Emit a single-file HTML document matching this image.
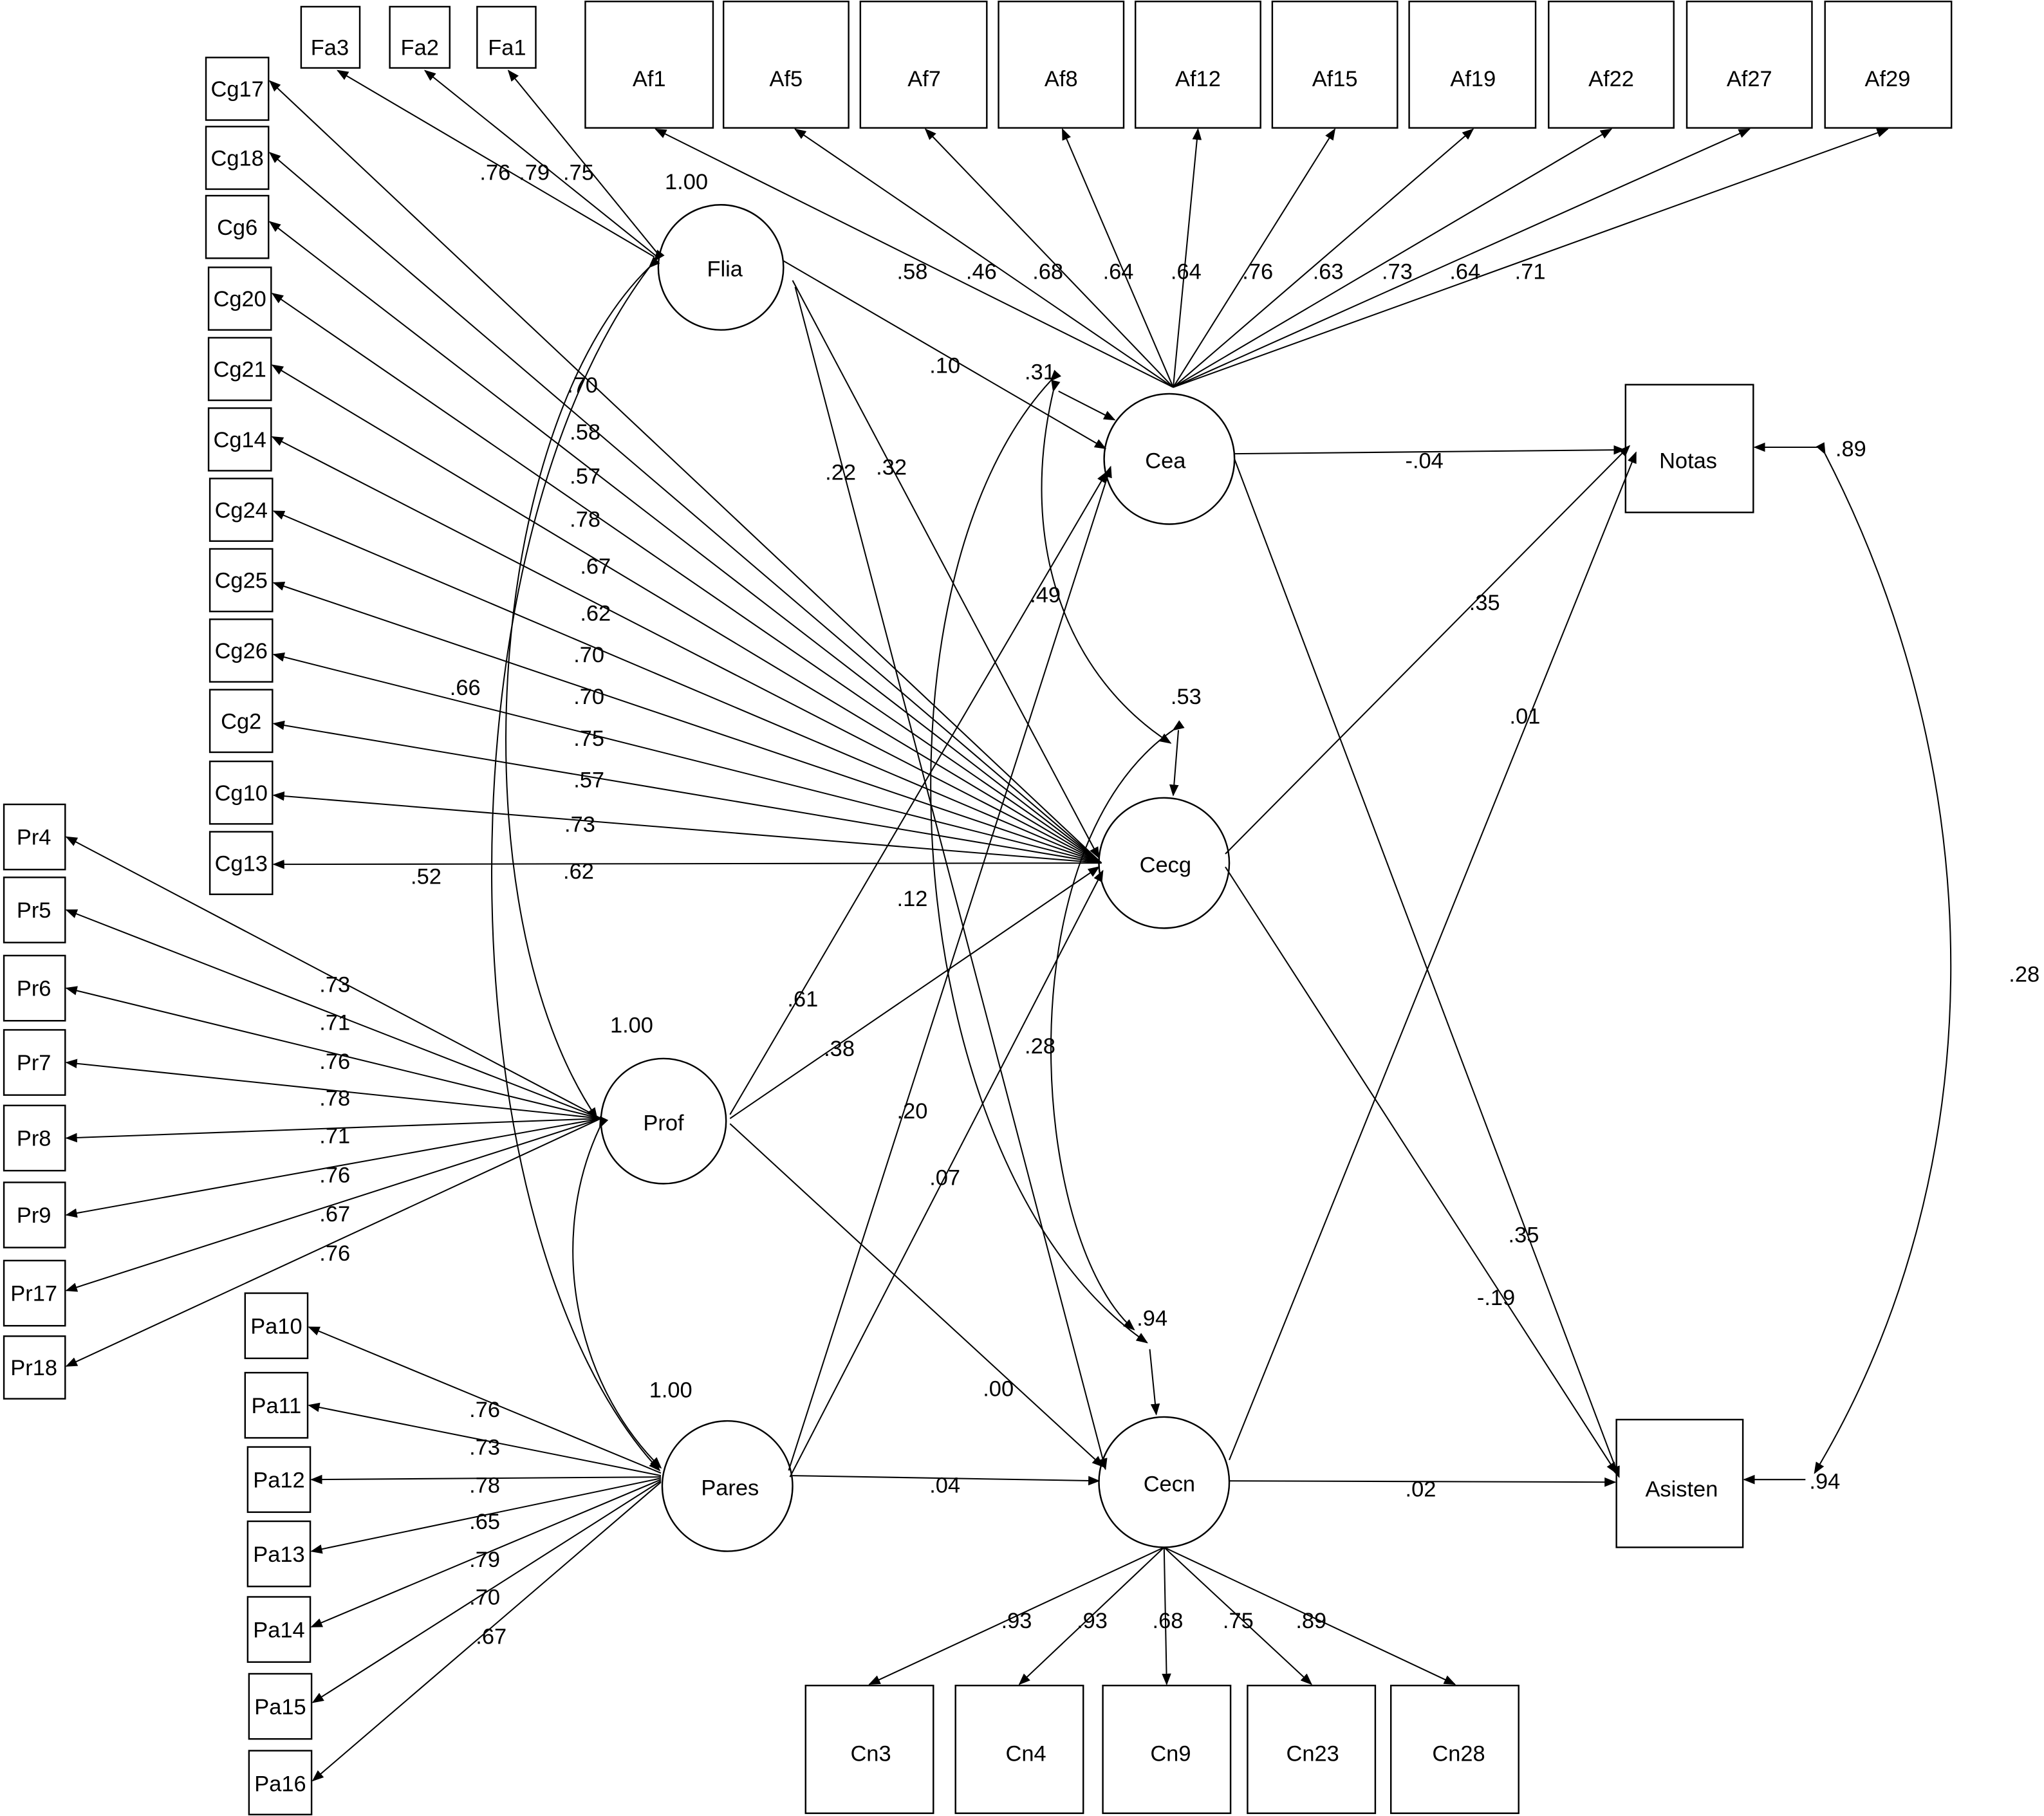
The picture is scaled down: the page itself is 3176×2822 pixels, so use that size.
<!DOCTYPE html>
<html><head><meta charset="utf-8"><style>
html,body{margin:0;padding:0;background:#fff;}
svg{display:block;}
text{font-family:"Liberation Sans",Arial,sans-serif;font-size:17px;fill:#000;}
</style></head><body>
<svg width="3176" height="2822" viewBox="0 0 1568 1393" xmlns="http://www.w3.org/2000/svg">
<defs><marker id="a" viewBox="0 0 10 10" refX="9" refY="5" markerWidth="9" markerHeight="9" markerUnits="userSpaceOnUse" orient="auto"><path d="M0,1 L10,5 L0,9 z" fill="#000"/></marker></defs>
<rect width="1568" height="1393" fill="#fff"/>
<g fill="#fff" stroke="#000" stroke-width="1.2">
<rect x="231" y="5" width="45" height="47"/><rect x="299" y="5" width="46" height="47"/><rect x="366" y="5" width="45" height="47"/>
<rect x="449" y="1" width="98" height="97"/><rect x="555" y="1" width="96" height="97"/><rect x="660" y="1" width="97" height="97"/><rect x="766" y="1" width="96" height="97"/><rect x="871" y="1" width="96" height="97"/><rect x="976" y="1" width="96" height="97"/><rect x="1081" y="1" width="97" height="97"/><rect x="1188" y="1" width="96" height="97"/><rect x="1294" y="1" width="96" height="97"/><rect x="1400" y="1" width="97" height="97"/>
<rect x="158" y="44" width="48" height="48"/><rect x="158" y="97" width="48" height="48"/><rect x="158" y="150" width="48" height="48"/><rect x="160" y="205" width="48" height="48"/><rect x="160" y="259" width="48" height="48"/><rect x="160" y="313" width="48" height="48"/><rect x="161" y="367" width="48" height="48"/><rect x="161" y="421" width="48" height="48"/><rect x="161" y="475" width="48" height="48"/><rect x="161" y="529" width="48" height="48"/><rect x="161" y="584" width="48" height="48"/><rect x="161" y="638" width="48" height="48"/>
<rect x="3" y="617" width="47" height="50"/><rect x="3" y="673" width="47" height="50"/><rect x="3" y="733" width="47" height="50"/><rect x="3" y="790" width="47" height="50"/><rect x="3" y="848" width="47" height="50"/><rect x="3" y="907" width="47" height="50"/><rect x="3" y="967" width="47" height="50"/><rect x="3" y="1025" width="47" height="48"/>
<rect x="188" y="992" width="48" height="50"/><rect x="188" y="1053" width="48" height="50"/><rect x="190" y="1110" width="48" height="50"/><rect x="190" y="1167" width="48" height="50"/><rect x="190" y="1225" width="48" height="50"/><rect x="191" y="1284" width="48" height="50"/><rect x="191" y="1343" width="48" height="49"/>
<circle cx="553" cy="205" r="48"/><circle cx="509" cy="860" r="48"/><circle cx="558" cy="1140" r="50"/><circle cx="897" cy="352" r="50"/><circle cx="893" cy="662" r="50"/><circle cx="893" cy="1137" r="50"/>
<rect x="1247" y="295" width="98" height="98"/><rect x="1240" y="1089" width="97" height="98"/>
<rect x="618" y="1293" width="98" height="98"/><rect x="733" y="1293" width="98" height="98"/><rect x="846" y="1293" width="98" height="98"/><rect x="957" y="1293" width="98" height="98"/><rect x="1067" y="1293" width="98" height="98"/>
</g>
<g stroke="#000" stroke-width="1" fill="none" marker-end="url(#a)">
<!-- Flia indicators -->
<line x1="502" y1="197" x2="259" y2="54"/><line x1="503" y1="196" x2="326" y2="54"/><line x1="505" y1="195" x2="390" y2="54"/>
<!-- Cea indicators -->
<line x1="900" y1="297" x2="503" y2="99"/><line x1="900" y1="297" x2="610" y2="99"/><line x1="900" y1="297" x2="710" y2="99"/><line x1="900" y1="297" x2="815" y2="99"/><line x1="900" y1="297" x2="919" y2="99"/><line x1="900" y1="297" x2="1024" y2="99"/><line x1="900" y1="297" x2="1130" y2="99"/><line x1="900" y1="297" x2="1236" y2="99"/><line x1="900" y1="297" x2="1342" y2="99"/><line x1="900" y1="297" x2="1448" y2="99"/>
<!-- Cecg indicators -->
<line x1="845" y1="662" x2="207" y2="62"/><line x1="845" y1="662" x2="207" y2="117"/><line x1="845" y1="662" x2="207" y2="170"/><line x1="845" y1="662" x2="209" y2="225"/><line x1="845" y1="662" x2="209" y2="280"/><line x1="845" y1="662" x2="209" y2="335"/><line x1="845" y1="662" x2="210" y2="392"/><line x1="845" y1="662" x2="210" y2="447"/><line x1="845" y1="662" x2="210" y2="502"/><line x1="845" y1="662" x2="210" y2="555"/><line x1="845" y1="662" x2="210" y2="610"/><line x1="845" y1="662" x2="210" y2="663"/>
<!-- Prof indicators -->
<line x1="461" y1="858" x2="51" y2="642"/><line x1="461" y1="858" x2="51" y2="698"/><line x1="461" y1="858" x2="51" y2="758"/><line x1="461" y1="858" x2="51" y2="815"/><line x1="461" y1="858" x2="51" y2="873"/><line x1="461" y1="858" x2="51" y2="932"/><line x1="461" y1="858" x2="51" y2="990"/><line x1="461" y1="858" x2="51" y2="1048"/>
<!-- Pares indicators -->
<line x1="507" y1="1130" x2="237" y2="1018"/><line x1="507" y1="1132" x2="237" y2="1078"/><line x1="507" y1="1133" x2="239" y2="1135"/><line x1="507" y1="1134" x2="239" y2="1190"/><line x1="507" y1="1135" x2="239" y2="1248"/><line x1="507" y1="1136" x2="240" y2="1306"/><line x1="507" y1="1137" x2="240" y2="1366"/>
<!-- Cecn indicators -->
<line x1="893" y1="1187" x2="667" y2="1292"/><line x1="893" y1="1187" x2="782" y2="1292"/><line x1="893" y1="1187" x2="895" y2="1292"/><line x1="893" y1="1187" x2="1006" y2="1292"/><line x1="893" y1="1187" x2="1116" y2="1292"/>
<!-- structural -->
<line x1="601" y1="200" x2="848" y2="344"/><line x1="608" y1="215" x2="843" y2="658"/><line x1="610" y1="220" x2="848" y2="1127"/>
<line x1="560" y1="855" x2="849" y2="362"/><line x1="560" y1="858" x2="843" y2="665"/><line x1="560" y1="862" x2="846" y2="1125"/>
<line x1="605" y1="1128" x2="852" y2="358"/><line x1="606" y1="1133" x2="846" y2="668"/><line x1="608" y1="1132" x2="843" y2="1136"/>
<line x1="947" y1="348" x2="1246" y2="345"/><line x1="947" y1="352" x2="1242" y2="1133"/>
<line x1="940" y1="655" x2="1250" y2="342"/><line x1="940" y1="665" x2="1240" y2="1130"/>
<line x1="943" y1="1120" x2="1255" y2="347"/><line x1="943" y1="1136" x2="1239" y2="1137"/>
<!-- errors -->
<line x1="812" y1="300" x2="855" y2="322"/><line x1="904" y1="560" x2="900" y2="610"/><line x1="882" y1="1035" x2="887" y2="1085"/>
<line x1="1395" y1="343" x2="1346" y2="343"/><line x1="1385" y1="1135" x2="1338" y2="1135"/>
</g>
<g stroke="#000" stroke-width="1" fill="none">
<!-- covariances -->
<path d="M498,205 C370,330 350,700 458,858" marker-start="url(#a)" marker-end="url(#a)"/>
<path d="M502,200 C330,420 340,950 506,1128" marker-start="url(#a)" marker-end="url(#a)"/>
<path d="M460,865 C420,950 440,1060 507,1126" marker-start="url(#a)" marker-end="url(#a)"/>
<path d="M808,300 C780,420 820,520 898,570" marker-start="url(#a)" marker-end="url(#a)"/>
<path d="M806,292 C660,450 690,900 880,1030" marker-start="url(#a)" marker-end="url(#a)"/>
<path d="M900,560 C770,650 790,950 870,1020" marker-start="url(#a)" marker-end="url(#a)"/>
<path d="M1400,348 C1530,600 1530,900 1392,1130" marker-start="url(#a)" marker-end="url(#a)"/>
</g>
<g text-anchor="middle">
<text x="253" y="42">Fa3</text><text x="322" y="42">Fa2</text><text x="389" y="42">Fa1</text>
<text x="498" y="66" font-size="19">Af1</text><text x="603" y="66" font-size="19">Af5</text><text x="709" y="66" font-size="19">Af7</text><text x="814" y="66" font-size="19">Af8</text><text x="919" y="66" font-size="19">Af12</text><text x="1024" y="66" font-size="19">Af15</text><text x="1130" y="66" font-size="19">Af19</text><text x="1236" y="66" font-size="19">Af22</text><text x="1342" y="66" font-size="19">Af27</text><text x="1448" y="66" font-size="19">Af29</text>
<text x="182" y="74">Cg17</text><text x="182" y="127">Cg18</text><text x="182" y="180">Cg6</text><text x="184" y="235">Cg20</text><text x="184" y="289">Cg21</text><text x="184" y="343">Cg14</text><text x="185" y="397">Cg24</text><text x="185" y="451">Cg25</text><text x="185" y="505">Cg26</text><text x="185" y="559">Cg2</text><text x="185" y="614">Cg10</text><text x="185" y="668">Cg13</text>
<text x="26" y="648">Pr4</text><text x="26" y="704">Pr5</text><text x="26" y="764">Pr6</text><text x="26" y="821">Pr7</text><text x="26" y="879">Pr8</text><text x="26" y="938">Pr9</text><text x="26" y="998">Pr17</text><text x="26" y="1055">Pr18</text>
<text x="212" y="1023">Pa10</text><text x="212" y="1084">Pa11</text><text x="214" y="1141">Pa12</text><text x="214" y="1198">Pa13</text><text x="214" y="1256">Pa14</text><text x="215" y="1315">Pa15</text><text x="215" y="1374">Pa16</text>
<text x="556" y="212" font-size="19">Flia</text><text x="509" y="867" font-size="19">Prof</text><text x="560" y="1147" font-size="19">Pares</text><text x="894" y="359" font-size="19">Cea</text><text x="894" y="669" font-size="19">Cecg</text><text x="897" y="1144" font-size="19">Cecn</text>
<text x="1295" y="359" font-size="19">Notas</text><text x="1290" y="1148" font-size="19">Asisten</text>
<text x="668" y="1351" font-size="19">Cn3</text><text x="787" y="1351" font-size="19">Cn4</text><text x="898" y="1351" font-size="19">Cn9</text><text x="1007" y="1351" font-size="19">Cn23</text><text x="1119" y="1351" font-size="19">Cn28</text>
</g>
<g>
<text x="510" y="145">1.00</text><text x="468" y="792">1.00</text><text x="498" y="1072">1.00</text>
<text x="368" y="138">.76</text><text x="398" y="138">.79</text><text x="432" y="138">.75</text>
<text x="688" y="214">.58</text><text x="741" y="214">.46</text><text x="792" y="214">.68</text><text x="846" y="214">.64</text><text x="898" y="214">.64</text><text x="953" y="214">.76</text><text x="1007" y="214">.63</text><text x="1060" y="214">.73</text><text x="1112" y="214">.64</text><text x="1162" y="214">.71</text>
<text x="435" y="301">.70</text><text x="437" y="337">.58</text><text x="437" y="371">.57</text><text x="437" y="404">.78</text><text x="445" y="440">.67</text><text x="445" y="476">.62</text><text x="440" y="508">.70</text><text x="345" y="533">.66</text><text x="440" y="540">.70</text><text x="440" y="572">.75</text><text x="440" y="604">.57</text><text x="433" y="638">.73</text><text x="315" y="678">.52</text><text x="432" y="674">.62</text>
<text x="245" y="761">.73</text><text x="245" y="790">.71</text><text x="245" y="820">.76</text><text x="245" y="848">.78</text><text x="245" y="877">.71</text><text x="245" y="907">.76</text><text x="245" y="937">.67</text><text x="245" y="967">.76</text>
<text x="360" y="1087">.76</text><text x="360" y="1116">.73</text><text x="360" y="1145">.78</text><text x="360" y="1173">.65</text><text x="360" y="1202">.79</text><text x="360" y="1231">.70</text><text x="365" y="1261">.67</text>
<text x="768" y="1249">.93</text><text x="826" y="1249">.93</text><text x="884" y="1249">.68</text><text x="938" y="1249">.75</text><text x="994" y="1249">.89</text>
<text x="713" y="286">.10</text><text x="633" y="368">.22</text><text x="672" y="364">.32</text><text x="786" y="291">.31</text><text x="790" y="462">.49</text><text x="898" y="540">.53</text><text x="688" y="695">.12</text><text x="604" y="772">.61</text><text x="632" y="810">.38</text><text x="786" y="808">.28</text><text x="688" y="858">.20</text><text x="713" y="909">.07</text><text x="872" y="1017">.94</text><text x="754" y="1071">.00</text><text x="713" y="1145">.04</text>
<text x="1078" y="359">-.04</text><text x="1127" y="468">.35</text><text x="1158" y="555">.01</text><text x="1157" y="953">.35</text><text x="1133" y="1001">-.19</text><text x="1078" y="1148">.02</text>
<text x="1408" y="350">.89</text><text x="1541" y="753">.28</text><text x="1388" y="1142">.94</text>
</g>
</svg>
</body></html>
